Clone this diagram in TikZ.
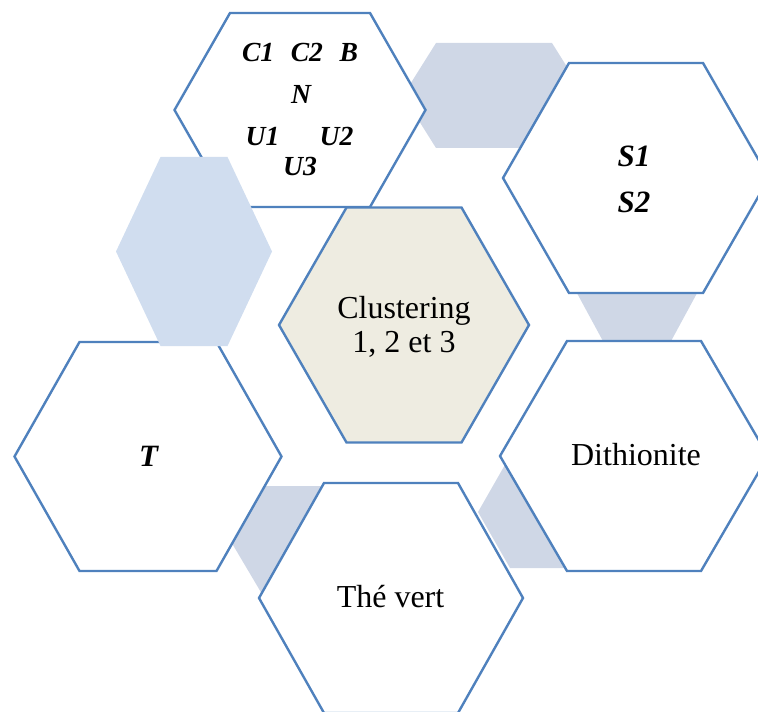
\documentclass[tikz,border=0pt]{standalone}
\usepackage{fontspec}
\setmainfont{Liberation Serif}
\usepackage{tikz}
\usetikzlibrary{positioning}

\definecolor{hexblue}{RGB}{79,129,189}
\definecolor{hexbeige}{RGB}{238,236,225}
\definecolor{hexlight}{RGB}{208,221,239}
\definecolor{hexgrey}{RGB}{207,215,230}

% #1 style, #2 cx, #3 cy, #4 half width, #5 half top edge, #6 half height
\newcommand{\hexshape}[6]{\path[#1] ({#2-#4},#3) -- ({#2-#5},{#3-#6})
  -- ({#2+#5},{#3-#6}) -- ({#2+#4},#3) -- ({#2+#5},{#3+#6})
  -- ({#2-#5},{#3+#6}) -- cycle;}

\begin{document}
\begin{tikzpicture}[
      x=0.5pt, y=-0.5pt,
      hexbox/.style={draw=hexblue, line width=1.2pt, fill=white},
      hexmid/.style={hexbox, fill=hexbeige},
      hexpad/.style={fill=hexgrey},
      hexpale/.style={fill=hexlight},
      lbl/.style={anchor=base, inner sep=0pt, font=\fontsize{16}{18}\selectfont},
      blbl/.style={lbl, font=\fontsize{15.5}{17}\selectfont\bfseries\itshape},
      slbl/.style={lbl, font=\fontsize{13.8}{16}\selectfont\bfseries\itshape},
    ]
    \clip (0,0) rectangle (758,711);
    % pads behind
    \hexshape{hexpad}{494}{95.5}{91}{58}{52.5}
    \hexshape{hexpad}{637}{260}{78}{33}{83}
    \hexshape{hexpad}{320}{540}{90}{58}{54}
    \hexshape{hexpad}{568}{512}{90}{58}{56}
    % main hexagons
    \hexshape{hexbox}{300}{110}{125.5}{70}{97}
    \hexshape{hexbox}{636}{178}{133}{67}{115}
    \hexshape{hexmid}{404}{325}{125}{57.5}{117.5}
    \hexshape{hexbox}{148}{456.5}{133.5}{68.5}{114.5}
    \hexshape{hexbox}{634}{456}{134}{67}{115}
    \hexshape{hexbox}{391}{598}{132}{67}{115}
    % pale pad on top
    \hexshape{hexpale}{194}{251.5}{78}{33.5}{94.5}

    \node[slbl] (cb) at (300,62) {C1\hspace{0.6em}C2\hspace{0.6em}B};
    \node[slbl] (n) at (301,104) {N};
    \node[slbl] (u1) at (262.5,146) {U1};
    \node[slbl] (u2) at (336.5,146) {U2};
    \node[slbl] (u3) at (300,176) {U3};
    \node[blbl] (s1) at (634,167) {S1};
    \node[blbl] (s2) at (634,212) {S2};
    \node[lbl] (clus1) at (404,318) {Clustering};
    \node[lbl] (clus2) at (404,352) {1, 2 et 3};
    \node[blbl] (t) at (148.5,466) {T};
    \node[lbl] (dith) at (636,465) {Dithionite};
    \node[lbl] (the) at (390.5,607) {Thé vert};
  \end{tikzpicture}
\end{document}
